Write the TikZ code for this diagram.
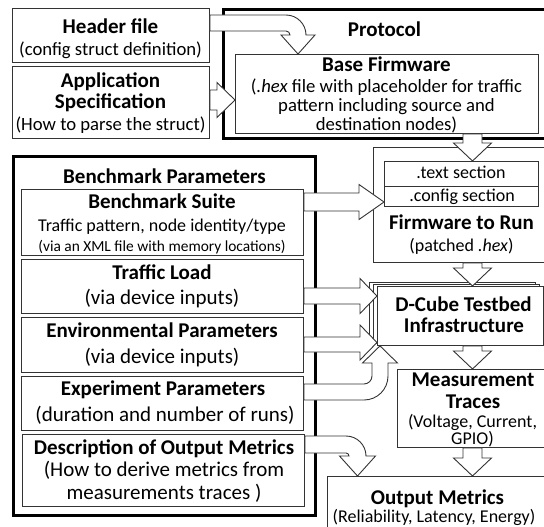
\documentclass[tikz,border=0pt]{standalone}
\usepackage{fontspec}
\setmainfont{Carlito}
\begin{document}
\begin{tikzpicture}[x=1pt,y=-1pt,
  box/.style={draw=black!80, line width=0.9pt, fill=white, inner sep=0pt, anchor=north west},
  thickbox/.style={draw=black, line width=3pt},
  barrow/.style={draw=black!80, line width=0.9pt, fill=white, line join=miter},
  lbl/.style={inner sep=0pt, anchor=base},
  tB/.style={lbl, font=\fontsize{21}{24}\selectfont\bfseries},
  tR/.style={lbl, font=\fontsize{18.7}{22}\selectfont},
  tM/.style={lbl, font=\fontsize{18}{21}\selectfont},
  tL/.style={lbl, font=\fontsize{21}{24}\selectfont},
  tS/.style={lbl, font=\fontsize{15.4}{18}\selectfont}]
\useasboundingbox (0,0) rectangle (544,527);
\clip (0,0) rectangle (544,527);

% thick group frames
\draw[thickbox] (223,10) rectangle (550,138);
\draw[thickbox] (13,156) rectangle (315,515);

% boxes
\node[box, minimum width=197pt, minimum height=54pt] (header) at (12,8) {};
\node[box, minimum width=197pt, minimum height=72pt] (app) at (12,66) {};
\node[box, minimum width=303pt, minimum height=79pt] (base) at (235,54) {};
\node[box, minimum width=282pt, minimum height=66pt] (suite) at (21,189) {};
\node[box, minimum width=282pt, minimum height=54pt] (traffic) at (21,259) {};
\node[box, minimum width=282pt, minimum height=55pt] (env) at (21,317) {};
\node[box, minimum width=282pt, minimum height=54pt] (exp) at (21,376) {};
\node[box, minimum width=282pt, minimum height=72pt] (desc) at (22,434) {};
\node[box, minimum width=180pt, minimum height=115pt] (fw) at (373,147) {};
\node[box, minimum width=154pt, minimum height=45pt] (sec) at (384,161) {};
\draw[draw=black!80, line width=0.9pt] (sec.west |- 0,186) -- (sec.east |- 0,186);
\node[box, minimum width=166pt, minimum height=59pt] (dc2) at (369,282) {};
\node[box, minimum width=166pt, minimum height=59pt] (dc1) at (373,284) {};
\node[box, minimum width=166pt, minimum height=59pt] (dc) at (377,286) {};
\node[box, minimum width=160pt, minimum height=78pt] (meas) at (397,369) {};
\node[box, minimum width=230pt, minimum height=70pt] (out) at (327,476) {};

% block arrows
\draw[barrow] (header.east |- 0,15) -- (286,15) .. controls (297,15) and (306,24) .. (306,35)
  -- (315,35) -- (298,0 |- base.north) -- (281,35) -- (290,35)
  .. controls (290,32.8) and (288.2,31) .. (286,31) -- (header.east |- 0,31) -- cycle;
\draw[barrow] (app.east |- 0,90) -- (217,90) -- (217,82.5) -- (base.west |- 0,100)
  -- (217,117.5) -- (217,110) -- (app.east |- 0,110) -- cycle;
\draw[barrow] (463,0 |- base.south) -- (463,143) -- (453.5,143) -- (472.5,0 |- sec.north)
  -- (491.5,143) -- (482,143) -- (482,0 |- base.south) -- cycle;
\draw[barrow] (suite.east |- 0,193) -- (359,193) -- (359,184.5) -- (sec.west |- 0,202)
  -- (359,219.5) -- (359,211) -- (suite.east |- 0,211) -- cycle;
\draw[barrow] (463,0 |- fw.south) -- (463,268) -- (453.5,268) -- (472.5,0 |- dc.north)
  -- (491.5,268) -- (482,268) -- (482,0 |- fw.south) -- cycle;
\draw[barrow] (traffic.east |- 0,288) -- (360,288) -- (360,278.5) -- (dc.west |- 0,296)
  -- (360,313.5) -- (360,304) -- (traffic.east |- 0,304) -- cycle;
\draw[barrow] (env.east |- 0,337) -- (360,337) -- (360,325) -- (dc.west |- 0,342.5)
  -- (360,360) -- (360,352) -- (env.east |- 0,352) -- cycle;
\draw[barrow] (exp.east |- 0,384) -- (364,384) .. controls (368.4,384) and (372,380.4) .. (372,376)
  -- (372,363) -- (362.5,363) -- (380,0 |- dc.south) -- (397.5,363) -- (388,363) -- (388,376)
  .. controls (388,389.3) and (377.3,400) .. (364,400) -- (exp.east |- 0,400) -- cycle;
\draw[barrow] (463,0 |- dc.south) -- (463,351) -- (453.5,351) -- (472.5,0 |- meas.north)
  -- (491.5,351) -- (482,351) -- (482,0 |- dc.south) -- cycle;
\draw[barrow] (463,0 |- meas.south) -- (463,458) -- (453.5,458) -- (472.5,0 |- out.north)
  -- (491.5,458) -- (482,458) -- (482,0 |- meas.south) -- cycle;
\draw[barrow] (desc.east |- 0,436) -- (346,436) .. controls (357,436) and (366,445) .. (366,456)
  -- (375.5,456) -- (357.5,0 |- out.north) -- (339.5,456) -- (349,456)
  .. controls (349,454.3) and (347.7,453) .. (346,453) -- (desc.east |- 0,453) -- cycle;

% texts
\node[tB] (hdrA) at (110.5,33.5) {Header file};
\node[tR] (hdrB) at (110.5,55.5) {(config struct definition)};
\node[tB] (appA) at (110.5,87.5) {Application};
\node[tB] (appB) at (110.5,108.5) {Specification};
\node[tR] (appC) at (110.5,130.5) {(How to parse the struct)};
\node[tB] (proto) at (384.5,36.5) {Protocol};
\node[tB] (baseA) at (386.5,71.5) {Base Firmware};
\node[tR] (baseB) at (386.5,92.5) {(\textit{.hex} file with placeholder for traffic};
\node[tR] (baseC) at (386.5,111.5) {pattern including source and};
\node[tR] (baseD) at (386.5,130.5) {destination nodes)};
\node[tB] (bench) at (164.5,183.5) {Benchmark Parameters};
\node[tB] (suiteA) at (162,208.5) {Benchmark Suite};
\node[tM] (suiteB) at (162,231.3) {Traffic pattern, node identity/type};
\node[tS] (suiteC) at (162,251.6) {(via an XML file with memory locations)};
\node[tB] (trafA) at (162,279.5) {Traffic Load};
\node[tL] (trafB) at (162,304.2) {(via device inputs)};
\node[tB] (envA) at (162,337.5) {Environmental Parameters};
\node[tL] (envB) at (162,363.2) {(via device inputs)};
\node[tB] (expA) at (163,395.5) {Experiment Parameters};
\node[tL] (expB) at (165,421.2) {(duration and number of runs)};
\node[tB] (descA) at (164,454.5) {Description of Output Metrics};
\node[tL] (descB) at (164,476.2) {(How to derive metrics from};
\node[tL] (descC) at (164,499.2) {measurements traces )};
\node[tM] (secA) at (461,178.3) {.text section};
\node[tM] (secB) at (462,201.3) {.config section};
\node[tB] (fwA) at (461.5,229.5) {Firmware to Run};
\node[tM] (fwB) at (461.5,251.3) {(patched \textit{.hex})};
\node[tB] (dcA) at (463.5,311.5) {D-Cube Testbed};
\node[tB] (dcB) at (464,332.5) {Infrastructure};
\node[tB] (measA) at (473,386.5) {Measurement};
\node[tB] (measB) at (473,408.5) {Traces};
\node[tM] (measC) at (472.5,427.3) {(Voltage, Current,};
\node[tM] (measD) at (472.5,444.3) {GPIO)};
\node[tB] (outA) at (437.5,504.5) {Output Metrics};
\node[tM] (outB) at (434,522.3) {(Reliability, Latency, Energy)};
\end{tikzpicture}
\end{document}
